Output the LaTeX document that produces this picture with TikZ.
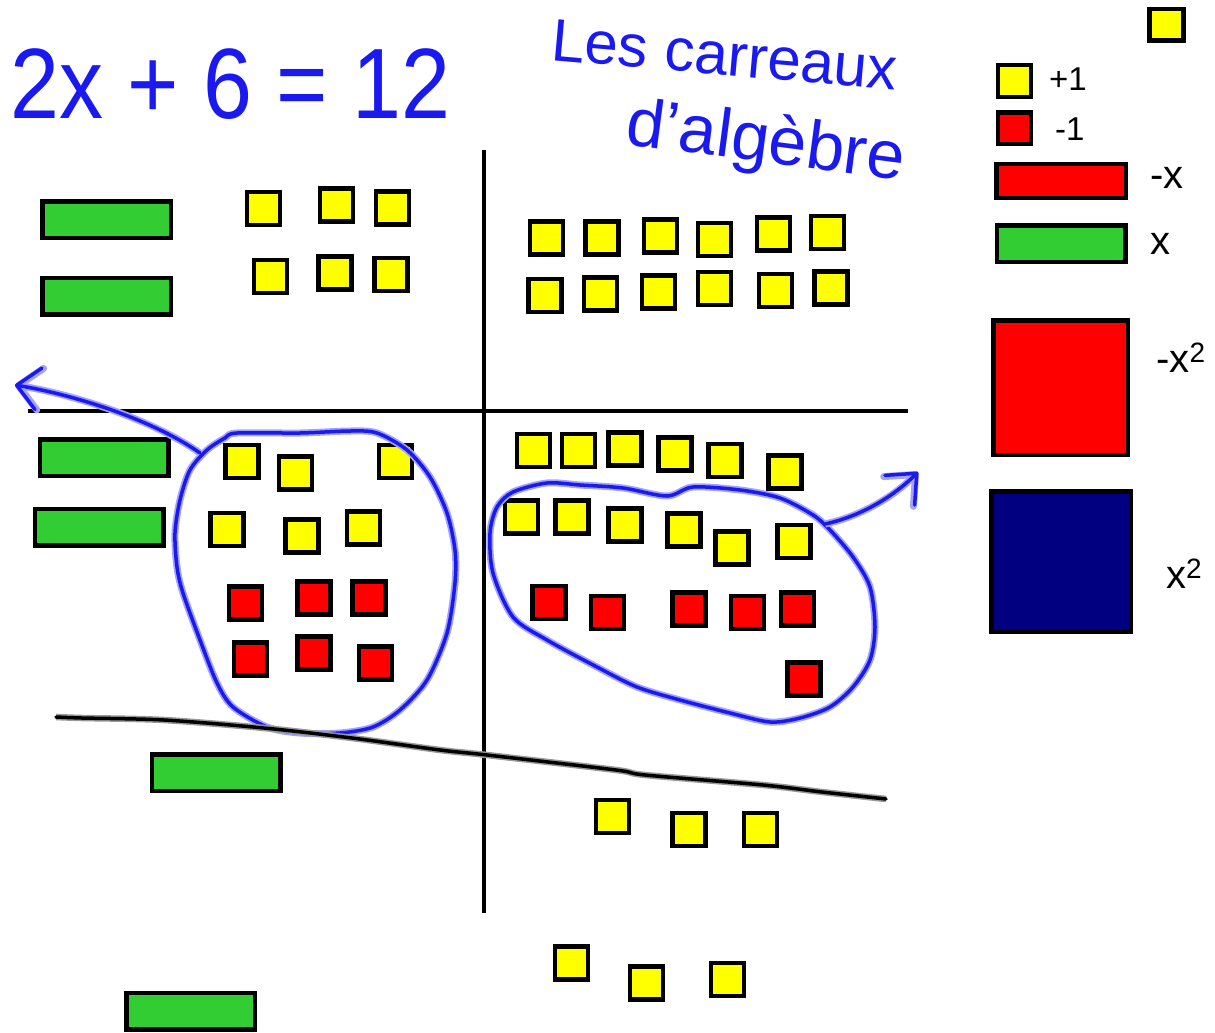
\documentclass[tikz,border=0pt]{standalone}
\usepackage{fontspec}
\setmainfont{Liberation Sans}
\usetikzlibrary{arrows.meta}

\definecolor{tileyellow}{RGB}{255,255,0}
\definecolor{tilered}{RGB}{255,0,0}
\definecolor{tilegreen}{RGB}{50,205,50}
\definecolor{tilenavy}{RGB}{0,0,128}
\definecolor{inkblue}{RGB}{25,25,240}

\tikzset{
  tilebox/.style={draw=black, line width=4.5pt, inner sep=0pt, minimum size=33pt},
  plusone/.style={tilebox, fill=tileyellow},
  minusone/.style={tilebox, fill=tilered},
  xtile/.style={tilebox, fill=tilegreen, minimum width=128.5pt, minimum height=36.5pt},
  minusxtile/.style={tilebox, fill=tilered, minimum width=129.5pt, minimum height=34pt},
  ink/.style={draw=inkblue, line width=3.5pt, line cap=round, line join=round,
    preaction={draw=inkblue!40, line width=7pt}},
  rule/.style={draw=black, line width=3.5pt, line cap=round,
    preaction={draw=black!40, line width=6.5pt}},
  handtext/.style={anchor=base west, inner sep=0pt, text=inkblue},
  legendlabel/.style={anchor=base west, inner sep=0pt}
}

\begin{document}
\begin{tikzpicture}[x=1pt, y=-1pt]

        \fill[white] (0,0) rectangle (1215,1033);
        \useasboundingbox (0,0) rectangle (1215,1033);

        % titre
        \node[handtext, font=\fontsize{100}{100}\selectfont] (eq) at (10,118) {\scalebox{0.88}[1]{2x + 6 = 12}};
        \node[handtext, font=\fontsize{60}{60}\selectfont, rotate=-5] (les) at (550,60) {Les carreaux};
        \node[handtext, font=\fontsize{68}{68}\selectfont, rotate=-7.5] (alg) at (624,144) {d'algèbre};

        % axes
        \draw[line width=4pt] (484,150) coordinate(topy) -- (484,913) coordinate(bottomy);
        \draw[line width=4pt] (28,411) coordinate(leftx) -- (908,411) coordinate(rightx);

        % haut gauche
        \foreach \px/\py [count=\i] in {106.5/219.5, 106.5/296}
            \node[xtile] (tlx\i) at (\px,\py) {};
        \foreach \px/\py [count=\i] in {263.5/208.5, 336.5/205, 392.5/208, 270.5/276.5, 335/273, 391/274.5}
            \node[plusone] (tlu\i) at (\px,\py) {};

        % haut droite
        \foreach \px/\py [count=\i] in {546.5/238, 602/238, 660.5/236, 714.5/239.5, 773.5/234, 827.5/232.5,
                                        545/295.5, 600.5/294, 658.5/292, 714.5/288.5, 775.5/290.5, 831/288}
            \node[plusone] (tru\i) at (\px,\py) {};

        % bas gauche
        \foreach \px/\py [count=\i] in {104/457.5, 99/527}
            \node[xtile] (blx\i) at (\px,\py) {};
        \foreach \px/\py [count=\i] in {242/461.5, 295.5/473, 395.5/461.5, 227/529.5, 302/536, 363.5/528}
            \node[plusone] (blu\i) at (\px,\py) {};
        \foreach \px/\py [count=\i] in {245.5/603, 314/598, 369/598, 250.5/659, 314/653, 375.5/663}
            \node[minusone] (bln\i) at (\px,\py) {};

        % bas droite
        \foreach \px/\py [count=\i] in {533.5/450.5, 578.5/450.5, 625/449, 675/454, 725/460.5, 785/472,
                                        521.5/517, 572/517, 625/525, 684/530, 732/548, 794/541.5}
            \node[plusone] (bru\i) at (\px,\py) {};
        \foreach \px/\py [count=\i] in {549/602.5, 607.5/612.5, 689/609, 747.5/612.5, 797.5/609, 804/679}
            \node[minusone] (brn\i) at (\px,\py) {};

        % solution
        \foreach \px/\py [count=\i] in {216/772.5, 190.5/1011}
            \node[xtile] (sx\i) at (\px,\py) {};
        \foreach \px/\py [count=\i] in {612.5/816.5, 689/829.5, 760.5/829.5, 571.5/963, 646.5/983, 727.5/979.5}
            \node[plusone] (su\i) at (\px,\py) {};

        % zero pairs
        \draw[ink] plot[smooth cycle] coordinates {(237,433) (300,433) (350,431) (377,433) (407,450) (430,477)
            (447,513) (455,550) (455,583) (447,633) (427,680) (400,710) (373,727) (340,733) (300,733)
            (267,727) (233,707) (217,683) (200,640) (183,593) (177,567) (175,533) (180,500) (190,470)
            (207,450) (225,438)};
        \coordinate (lstart) at (200,453);
        \draw[ink, -{Straight Barb[round, length=22pt, width=42pt]}] (lstart) .. controls (150,418) and (70,394) .. (15,385);

        \draw[ink] plot[smooth cycle] coordinates {(497,507) (513,492) (547,483) (580,485) (623,488) (667,496)
            (693,487) (740,490) (780,498) (813,515) (830,530) (853,557) (870,587) (875,627) (870,660)
            (853,687) (830,707) (800,718) (770,722) (730,713) (680,700) (637,687) (597,667) (547,640)
            (513,617) (493,573) (490,533)};
        \coordinate (rstart) at (825,524);
        \draw[ink, -{Straight Barb[round, length=24pt, width=42pt]}] (rstart) .. controls (862,516) and (894,496) .. (918,472);

        % trait
        \draw[rule] plot[smooth] coordinates {(56,717) (82,718) (164,720) (264,728) (352,738) (440,750)
            (487,755) (616,770) (645,775) (763,785) (822,792) (886,799)};

        % legende
        \node[plusone, minimum width=34pt, minimum height=31.5pt] (ltop) at (1166.5,25) {};
        \node[plusone, minimum height=31.5pt] (lone) at (1014.5,81) {};
        \node[minusone, minimum height=31.5pt] (lmone) at (1014.5,128) {};
        \node[minusxtile] (lmx) at (1061,181) {};
        \node[xtile] (lx) at (1061,243.5) {};
        \node[tilebox, fill=tilered, minimum width=134.5pt, minimum height=134.5pt] (lmsq) at (1060.5,387.5) {};
        \node[tilebox, fill=tilenavy, minimum width=139.5pt, minimum height=140.5pt] (lsq) at (1061,561.5) {};

        \node[legendlabel, font=\fontsize{33}{36}\selectfont] (lonet) at (1049,90) {+1};
        \node[legendlabel, font=\fontsize{33}{36}\selectfont] (lmonet) at (1055,140) {-1};
        \node[legendlabel, font=\fontsize{40}{44}\selectfont] (lmxt) at (1150,188) {-x};
        \node[legendlabel, font=\fontsize{40}{44}\selectfont] (lxt) at (1150,254) {x};
        \node[legendlabel, font=\fontsize{40}{44}\selectfont] (lmsqt) at (1156,372) {-x\textsuperscript{2}};
        \node[legendlabel, font=\fontsize{40}{44}\selectfont] (lsqt) at (1166,588) {x\textsuperscript{2}};

    \end{tikzpicture}
\end{document}
